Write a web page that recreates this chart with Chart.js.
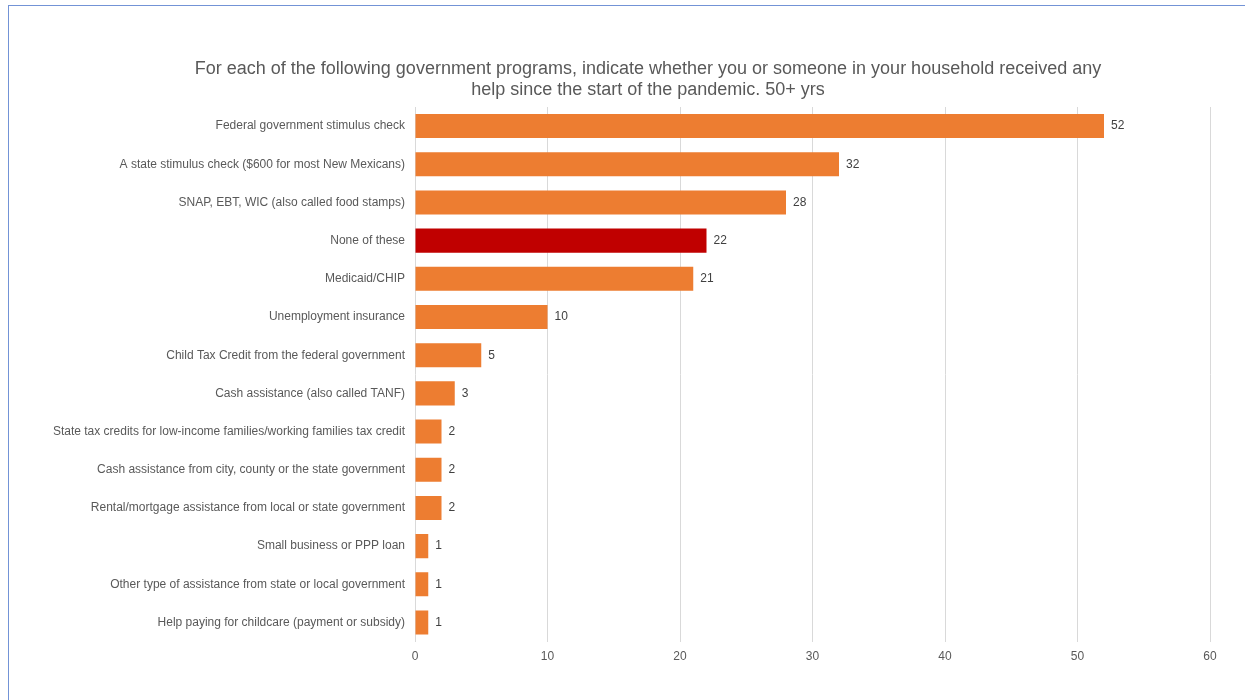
<!DOCTYPE html>
<html>
<head>
<meta charset="utf-8">
<title>Government program help since the start of the pandemic, 50+ yrs</title>
<script src="https://cdn.jsdelivr.net/npm/chart.js@4.4.1/dist/chart.umd.min.js"></script>
<style>
  html, body { margin: 0; padding: 0; background: #ffffff; overflow: hidden; }
  #frame {
    position: absolute; left: 8px; top: 5px; width: 1260px; height: 720px;
    border: 1.5px solid #7393d6; box-sizing: border-box;
  }
  #wrap { position: absolute; left: 0; top: 0; width: 1245px; height: 700px; }
</style>
</head>
<body>
<div id="frame"></div>
<div id="wrap"><canvas id="chart" width="1245" height="700"></canvas></div>
<script>
// Programs, in the order shown from top to bottom
const categories = [
  "Federal government stimulus check",
  "A state stimulus check ($600 for most New Mexicans)",
  "SNAP, EBT, WIC (also called food stamps)",
  "None of these",
  "Medicaid/CHIP",
  "Unemployment insurance",
  "Child Tax Credit from the federal government",
  "Cash assistance (also called TANF)",
  "State tax credits for low-income families/working families tax credit",
  "Cash assistance from city, county or the state government",
  "Rental/mortgage assistance from local or state government",
  "Small business or PPP loan",
  "Other type of assistance from state or local government",
  "Help paying for childcare (payment or subsidy)"
];

// Percent of respondents aged 50+ whose household received each kind of help
const percentValues = [52, 32, 28, 22, 21, 10, 5, 3, 2, 2, 2, 1, 1, 1];

const xTickValues = [0, 10, 20, 30, 40, 50, 60];

const titleLines = [
  "For each of the following government programs, indicate whether you or someone in your household received any",
  "help since the start of the pandemic. 50+ yrs"
];

const ORANGE = "#ED7D31";
const RED = "#C00000";
const FONT = "'Liberation Sans', Arial, sans-serif";
const barColors = categories.map(c => c === "None of these" ? RED : ORANGE);

// Two-line heading, centred over the whole figure
const headingText = {
  id: "headingText",
  afterDraw(chart) {
    const ctx = chart.ctx;
    ctx.save();
    ctx.font = "18px " + FONT;
    ctx.fillStyle = "#595959";
    ctx.textAlign = "center";
    ctx.textBaseline = "alphabetic";
    ctx.fillText(titleLines[0], 648, 74);
    ctx.fillText(titleLines[1], 648, 95);
    ctx.restore();
  }
};

// Writes each bar's value just past its end
const valueLabels = {
  id: "valueLabels",
  afterDatasetsDraw(chart) {
    const ctx = chart.ctx;
    const meta = chart.getDatasetMeta(0);
    ctx.save();
    ctx.font = "12px " + FONT;
    ctx.fillStyle = "#404040";
    ctx.textAlign = "left";
    ctx.textBaseline = "middle";
    meta.data.forEach((bar, i) => {
      ctx.fillText(String(percentValues[i]), bar.x + 7, bar.y);
    });
    ctx.restore();
  }
};

new Chart(document.getElementById("chart"), {
  type: "bar",
  data: {
    labels: categories,
    datasets: [{
      data: percentValues,
      backgroundColor: barColors,
      borderWidth: 0,
      categoryPercentage: 1.0,
      barPercentage: 0.63
    }]
  },
  options: {
    indexAxis: "y",
    responsive: false,
    animation: false,
    devicePixelRatio: 1,
    layout: { padding: { left: 0, right: 35, top: 107, bottom: 28 } },
    plugins: {
      legend: { display: false },
      tooltip: { enabled: false },
      title: { display: false }
    },
    scales: {
      x: {
        min: 0,
        max: 60,
        afterBuildTicks(scale) { scale.ticks = xTickValues.map(v => ({ value: v })); },
        grid: { color: "#d9d9d9", lineWidth: 1, drawTicks: false },
        border: { display: false },
        ticks: {
          color: "#595959",
          padding: 8,
          font: { family: FONT, size: 12 }
        }
      },
      y: {
        afterFit(scale) { scale.width = 415; },
        grid: { display: false, drawTicks: false },
        border: { display: false },
        ticks: {
          color: "#595959",
          padding: 10,
          autoSkip: false,
          font: { family: FONT, size: 12 }
        }
      }
    }
  },
  plugins: [valueLabels, headingText]
});
</script>
</body>
</html>
